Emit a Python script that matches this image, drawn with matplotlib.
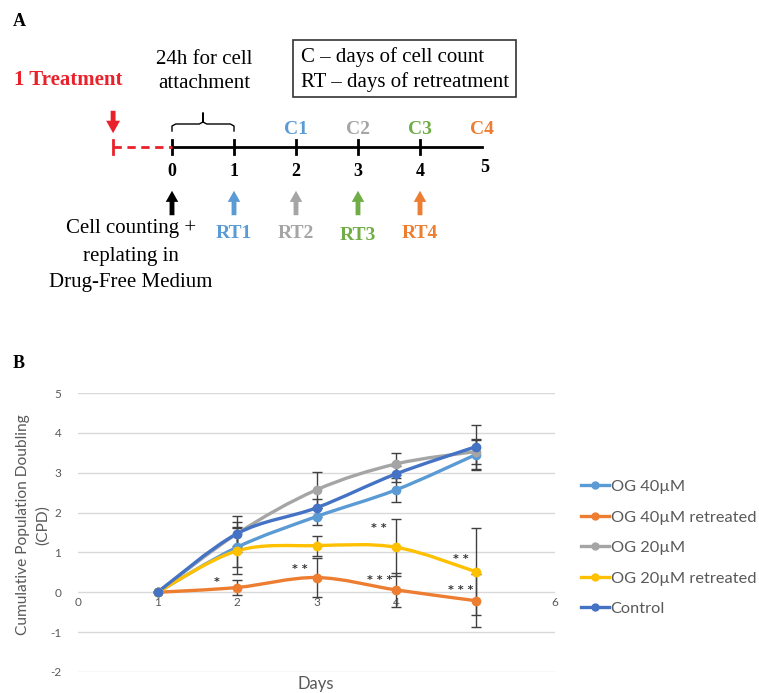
import matplotlib
matplotlib.use("Agg")
import matplotlib.pyplot as plt
from matplotlib.path import Path
from matplotlib.patches import PathPatch, Rectangle
from matplotlib.lines import Line2D
import numpy as np

plt.rcParams["axes.unicode_minus"] = False

# ---- panel B data ----
days = [1, 2, 3, 4, 5]
og40 = [0, 1.13, 1.90, 2.57, 3.45]
og40_err = [0, 0.50, 0.22, 0.30, 0.39]
og40_rt = [0, 0.12, 0.37, 0.06, -0.21]
og40_rt_err = [0, 0.20, 0.50, 0.42, 0.67]
og20 = [0, 1.47, 2.57, 3.22, 3.53]
og20_err = [0, 0.30, 0.45, 0.28, 0.30]
og20_rt = [0, 1.04, 1.17, 1.13, 0.52]
og20_rt_err = [0, 0.58, 0.25, 0.72, 1.10]
control = [0, 1.47, 2.12, 2.97, 3.65]
control_err = [0, 0.45, 0.23, 0.21, 0.55]

series_names = ["OG 40µM", "OG 40µM retreated", "OG 20µM", "OG 20µM retreated", "Control"]
series_vals = [og40, og40_rt, og20, og20_rt, control]
series_errs = [og40_err, og40_rt_err, og20_err, og20_rt_err, control_err]
series_colors = ["#5B9BD5", "#ED7D31", "#A5A5A5", "#FFC000", "#4472C4"]

# significance stars (day, value, text)
star_x = [1.75, 2.79, 3.78, 3.80, 4.81, 4.81]
star_y = [0.26, 0.58, 1.61, 0.31, 0.84, 0.06]
star_txt = ["*", "* *", "* *", "* * *", "* *", "* * *"]

# ---- panel A data ----
tl_days = [0, 1, 2, 3, 4, 5]
count_labels = ["C1", "C2", "C3", "C4"]
count_days = [2, 3, 4, 5]
rt_labels = ["RT1", "RT2", "RT3", "RT4"]
rt_days = [1, 2, 3, 4]
tl_colors = ["#5B9BD5", "#A5A5A5", "#70AD47", "#ED7D31"]

W, H = 759, 693
fig = plt.figure(figsize=(W / 100, H / 100), dpi=100)

serif = "Liberation Serif"
sans = "Lato"
gray_txt = "#595959"

# ================= Panel A =================
px = 62.0  # pixels per day
x0 = 172.0
axa = fig.add_axes([0, 1 - 360 / H, 1, 360 / H])
axa.set_xlim(-x0 / px, (W - x0) / px)
axa.set_ylim(360, 0)
axa.axis("off")

fig.text(13 / W, 1 - 22 / H, "A", fontsize=13, fontweight="bold", family=serif, va="center")
fig.text(13 / W, 1 - 363 / H, "B", fontsize=13, fontweight="bold", family=serif, va="center")

ty = 147
axa.plot([tl_days[0], tl_days[-1]], [ty, ty], color="black", lw=2)
for d in tl_days[:-1]:
    axa.plot([d, d], [ty - 7, ty + 7], color="black", lw=2)
for d in tl_days:
    axa.text(d + (0.05 if d == 5 else 0), 171 if d < 5 else 168, str(d), ha="center", va="center",
             fontsize=13, fontweight="bold", family=serif)

red = "#E8212A"
axa.plot([-0.95, 0], [ty, ty], color=red, lw=2, ls=(0, (3, 2)))
axa.plot([-0.95, -0.95], [ty - 7, ty + 7], color=red, lw=2)
axa.annotate("", xy=(-0.95, 136), xytext=(-0.95, 108),
             arrowprops=dict(arrowstyle="simple,head_width=1.0,head_length=0.9,tail_width=0.35",
                             color=red, lw=0))
axa.text(-2.55, 80, "1 Treatment", color=red, fontsize=15, fontweight="bold", family=serif,
         ha="left", va="center")

# brace
bx = [0, 0, 0.06, 0.44, 0.5, 0.5, 0.5, 0.56, 0.94, 1, 1]
by = [131, 126, 124, 124, 122, 113, 122, 124, 124, 126, 131]
axa.plot(bx, by, color="black", lw=1)
axa.text(0.52, 60, "24h for cell", ha="center", va="center", fontsize=15, family=serif)
axa.text(0.52, 84, "attachment", ha="center", va="center", fontsize=15, family=serif)

# info box
axa.add_patch(Rectangle(((293 - x0) / px, 40), (516 - 293) / px, 57, fill=False, lw=1.2, ec="#333333"))
axa.text((301 - x0) / px, 57, "C – days of cell count", fontsize=15, family=serif, va="center")
axa.text((301 - x0) / px, 82, "RT – days of retreatment", fontsize=15, family=serif, va="center")

for lab, d, c in zip(count_labels, count_days, tl_colors):
    axa.text(d, 129, lab, color=c, fontsize=14, fontweight="bold", family=serif, ha="center", va="center")

arrow_style = "simple,head_width=0.9,head_length=0.8,tail_width=0.35"
axa.annotate("", xy=(0, 188), xytext=(0, 218),
             arrowprops=dict(arrowstyle=arrow_style, color="black", lw=0))
for lab, d, c in zip(rt_labels, rt_days, tl_colors):
    axa.annotate("", xy=(d, 188), xytext=(d, 218),
                 arrowprops=dict(arrowstyle=arrow_style, color=c, lw=0))
    axa.text(d, 235 if lab == "RT3" else 233, lab, color=c, fontsize=14, fontweight="bold",
             family=serif, ha="center", va="center")

for i, line in enumerate(["Cell counting +", "replating in", "Drug-Free Medium"]):
    axa.text(-0.66, 229 + i * 27, line, ha="center", va="center", fontsize=15, family=serif)

# ================= Panel B =================
ax = fig.add_axes([78 / W, 1 - 672 / H, (555 - 78) / W, (672 - 393) / H])
ax.set_xlim(0, 6)
ax.set_ylim(-2, 5)
ax.set_yticks(range(-2, 6))
ax.set_xticks(range(0, 7))
ax.grid(axis="y", color="#D9D9D9", lw=1)
ax.set_axisbelow(True)
for s in ["top", "right", "left"]:
    ax.spines[s].set_visible(False)
ax.spines["bottom"].set_position(("data", 0))
ax.spines["bottom"].set_visible(False)
ax.tick_params(length=0, labelsize=8.5, labelcolor=gray_txt)
ax.tick_params(axis="y", pad=12)
for t in ax.get_xticklabels() + ax.get_yticklabels():
    t.set_family(sans)


def smooth_path(xs, ys):
    pts = np.column_stack([xs, ys]).astype(float)
    n = len(pts)
    verts = [pts[0]]
    codes = [Path.MOVETO]
    for i in range(n - 1):
        p0 = pts[max(i - 1, 0)]
        p1 = pts[i]
        p2 = pts[i + 1]
        p3 = pts[min(i + 2, n - 1)]
        c1 = p1 + (p2 - p0) / 6.0
        c2 = p2 - (p3 - p1) / 6.0
        verts += [c1, c2, p2]
        codes += [Path.CURVE4] * 3
    return Path(verts, codes)


handles = []
for name, vals, errs, col in zip(series_names, series_vals, series_errs, series_colors):
    ax.errorbar(days, vals, yerr=errs, fmt="none", ecolor="#404040", elinewidth=1,
                capsize=3.5, capthick=1, zorder=2)
    ax.add_patch(PathPatch(smooth_path(days, vals), fill=False, ec=col, lw=2.4, zorder=3))
    ax.plot(days, vals, ls="none", marker="o", ms=6, color=col, zorder=4)
    handles.append(Line2D([0], [0], color=col, lw=2.4, marker="o", ms=5, label=name))

for sx, sy, st in zip(star_x, star_y, star_txt):
    ax.text(sx, sy, st, ha="center", va="center", fontsize=8, fontweight="bold",
            color="#333333", family="DejaVu Sans")

fig.text(316 / W, 1 - 684 / H, "Days", fontsize=12, color=gray_txt, family=sans,
         ha="center", va="center")
fig.text(33 / W, 1 - 525 / H, "Cumulative Population Doubling\n(CPD)", rotation=90,
         ha="center", va="center", fontsize=11.2, color=gray_txt, family=sans, linespacing=1.45)

fig.legend(handles=handles, loc="upper left", bbox_to_anchor=(574 / W, 1 - 473 / H),
           frameon=False, labelspacing=0.98, handlelength=1.75, handletextpad=0.08,
           prop={"family": sans, "size": 11.8}, labelcolor=gray_txt, borderaxespad=0)

fig.savefig("out.png", dpi=100, facecolor="white")
